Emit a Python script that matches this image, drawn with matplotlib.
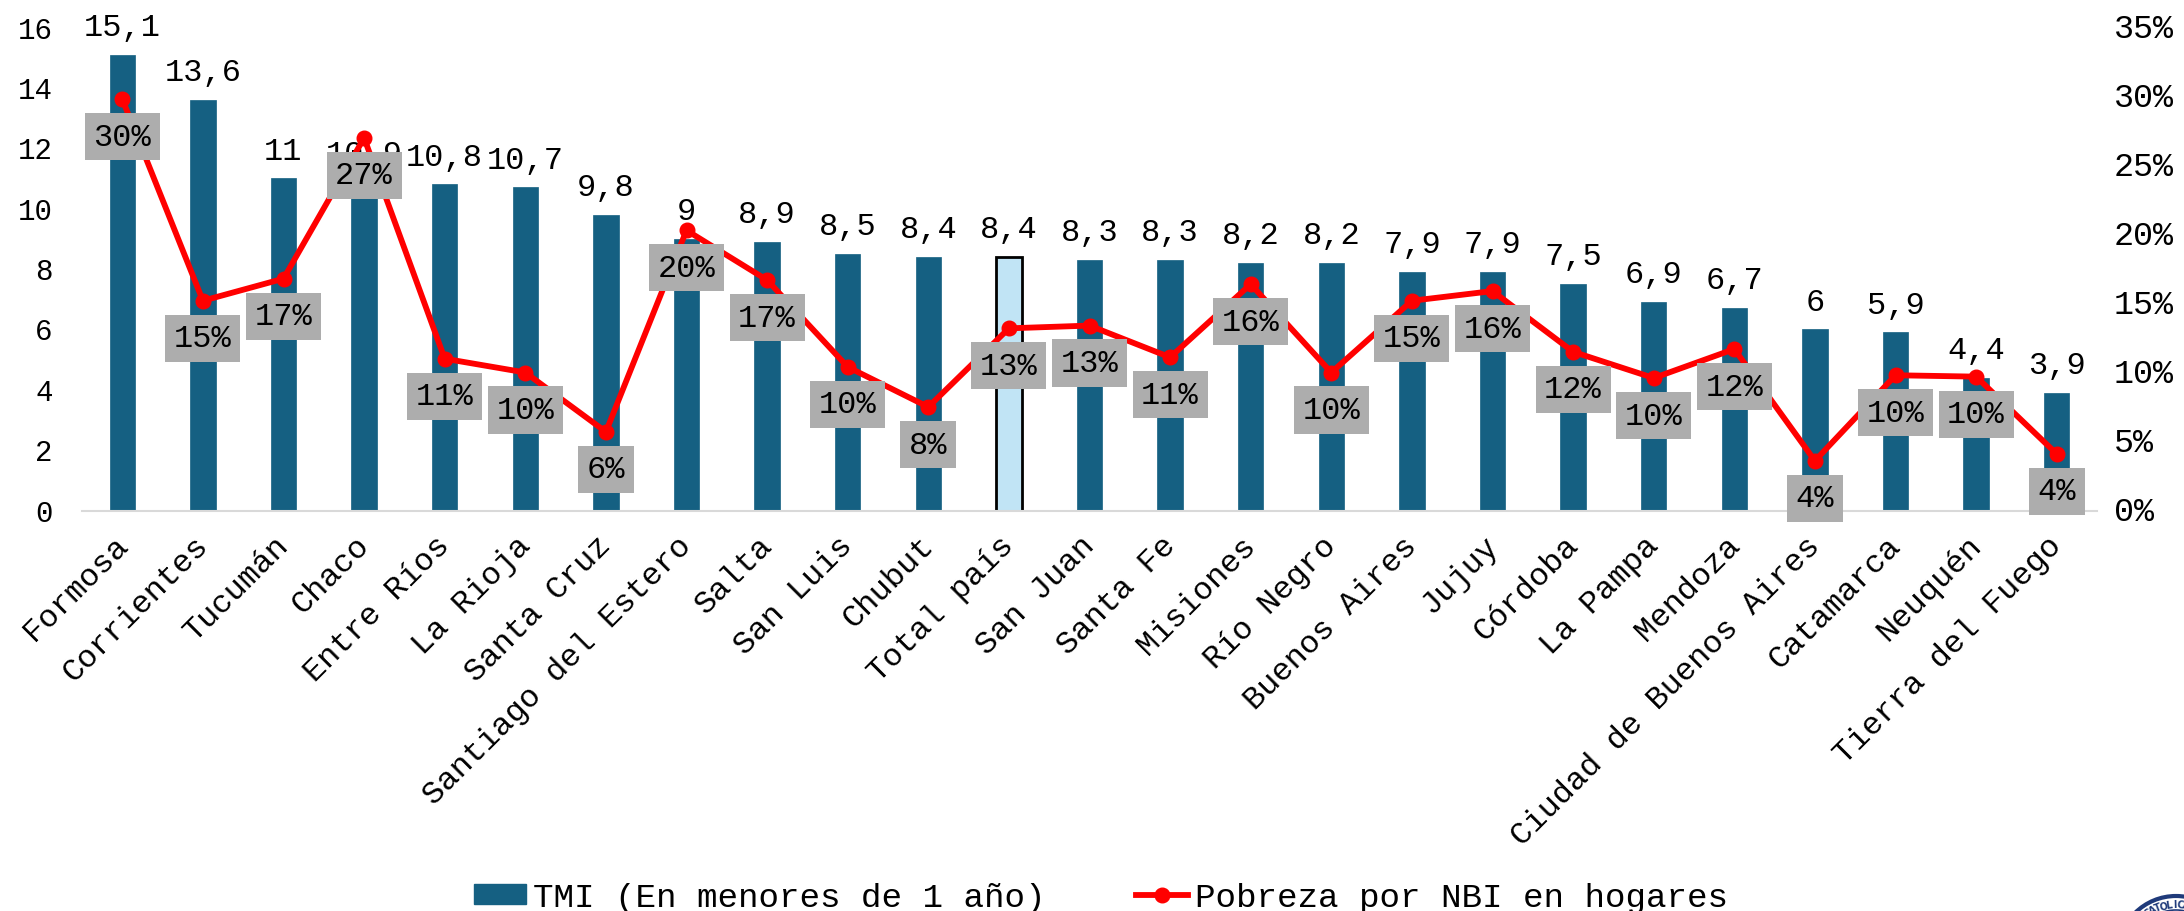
import math
import matplotlib
matplotlib.use("Agg")
import matplotlib.pyplot as plt
from matplotlib.lines import Line2D
from matplotlib.patches import Ellipse, Patch
from matplotlib.transforms import ScaledTranslation

provincias = ["Formosa", "Corrientes", "Tucumán", "Chaco", "Entre Ríos", "La Rioja", "Santa Cruz",
              "Santiago del Estero", "Salta", "San Luis", "Chubut", "Total país", "San Juan", "Santa Fe",
              "Misiones", "Río Negro", "Buenos Aires", "Jujuy", "Córdoba", "La Pampa", "Mendoza",
              "Ciudad de Buenos Aires", "Catamarca", "Neuquén", "Tierra del Fuego"]
tmi = [15.1, 13.6, 11, 10.9, 10.8, 10.7, 9.8, 9, 8.9, 8.5, 8.4, 8.4, 8.3, 8.3, 8.2, 8.2,
       7.9, 7.9, 7.5, 6.9, 6.7, 6, 5.9, 4.4, 3.9]
pobreza = [29.8, 15.2, 16.8, 27.0, 11.0, 10.0, 5.7, 20.3, 16.7, 10.4, 7.5, 13.2, 13.4, 11.1,
           16.4, 10.0, 15.2, 15.9, 11.5, 9.6, 11.7, 3.6, 9.8, 9.7, 4.1]
ticks_izq = [0, 2, 4, 6, 8, 10, 12, 14, 16]
ticks_der = [0, 5, 10, 15, 20, 25, 30, 35]

AZUL = "#156082"
CELESTE = "#C1E4F5"
ROJO = "#FF0000"
GRIS = "#ADADAD"
NAVY = "#1F3A7A"

plt.rcParams["font.family"] = ["Liberation Mono", "DejaVu Sans Mono"]

fig = plt.figure(figsize=(21.84, 9.12), dpi=100)
ax = fig.add_axes([82 / 2184, (912 - 511.5) / 912, (2097 - 82) / 2184, (511.5 - 28.5) / 912])
x = list(range(len(provincias)))

# Barras TMI
colores = [CELESTE if p == "Total país" else AZUL for p in provincias]
bordes = ["black" if p == "Total país" else AZUL for p in provincias]
anchos = [2 if p == "Total país" else 0.5 for p in provincias]
ax.bar(x, tmi, width=0.316, color=colores, edgecolor=bordes, linewidth=anchos)

for i, v in zip(x, tmi):
    texto = f"{v:g}".replace(".", ",")
    ax.annotate(texto, (i, v), xytext=(0, 20), textcoords="offset points",
                ha="center", va="center", fontsize=23, annotation_clip=False)

ax.set_xlim(-0.5, len(provincias) - 0.5)
ax.set_ylim(0, 16)
ax.set_yticks(ticks_izq)
ax.set_xticks(x)
ax.set_xticklabels(provincias, rotation=45, ha="right", rotation_mode="anchor", fontsize=23)
ax.tick_params(axis="both", length=0)
ax.tick_params(axis="y", labelsize=21, pad=21)
ax.tick_params(axis="x", pad=14)
for lado in ["top", "left", "right"]:
    ax.spines[lado].set_visible(False)
ax.spines["bottom"].set_color("#D9D9D9")
ax.spines["bottom"].set_linewidth(1.5)

# ajuste fino de las etiquetas
desvio_x = ScaledTranslation(-7 / 72, 0, fig.dpi_scale_trans)
for lab in ax.get_xticklabels():
    lab.set_transform(lab.get_transform() + desvio_x)
desvio_izq = ScaledTranslation(0, 0.7 / 72, fig.dpi_scale_trans)
for lab in ax.get_yticklabels():
    lab.set_transform(lab.get_transform() + desvio_izq)

# Linea de pobreza en el eje derecho
ax2 = ax.twinx()
ax2.plot(x, pobreza, color=ROJO, linewidth=4.2, marker="o", markersize=10.5)
ax2.set_ylim(0, 35)
ax2.set_yticks(ticks_der)
ax2.set_yticklabels([f"{t}%" for t in ticks_der])
ax2.tick_params(axis="y", length=0, labelsize=24, pad=12)
for lado in ["top", "left", "right", "bottom"]:
    ax2.spines[lado].set_visible(False)
desvio_der = ScaledTranslation(0, 1.5 / 72, fig.dpi_scale_trans)
for lab in ax2.get_yticklabels():
    lab.set_transform(lab.get_transform() + desvio_der)

for i, p in zip(x, pobreza):
    ax2.annotate(f"{round(p)}%", (i, p), xytext=(0, -27), textcoords="offset points",
                 ha="center", va="center", fontsize=23, annotation_clip=False,
                 bbox=dict(boxstyle="square,pad=0.27", facecolor=GRIS, edgecolor="none"))

# Leyenda
handles = [Patch(facecolor=AZUL, edgecolor=AZUL),
           Line2D([0], [0], color=ROJO, linewidth=4.2, marker="o", markersize=10.5)]
etiquetas = ["TMI (En menores de 1 año)", "Pobreza por NBI en hogares"]
fig.legend(handles, etiquetas, ncol=2, loc="center", bbox_to_anchor=(1101 / 2184, 1 - 899 / 912),
           fontsize=24.7, frameon=False, handlelength=1.5, handleheight=0.52, handletextpad=0.2,
           columnspacing=2.65, borderpad=0, borderaxespad=0)

# Sello de la universidad, cortado por el borde de la imagen
cx, cy, r = 2176, 955, 58
for radio, grosor in [(r, 3), (r - 14, 1.2)]:
    fig.add_artist(Ellipse((cx / 2184, 1 - cy / 912), 2 * radio / 2184, 2 * radio / 912,
                           transform=fig.transFigure, facecolor="none", edgecolor=NAVY, linewidth=grosor))
for k, letra in enumerate("CATOLICA"):
    ang = -34 + 6.5 * k
    px = cx + (r - 8) * math.sin(math.radians(ang))
    py = cy - (r - 8) * math.cos(math.radians(ang))
    fig.text(px / 2184, 1 - py / 912, letra, fontsize=7, color=NAVY, rotation=-ang,
             ha="center", va="center", family="DejaVu Sans", fontweight="bold")

fig.savefig("out.png", dpi=100)
